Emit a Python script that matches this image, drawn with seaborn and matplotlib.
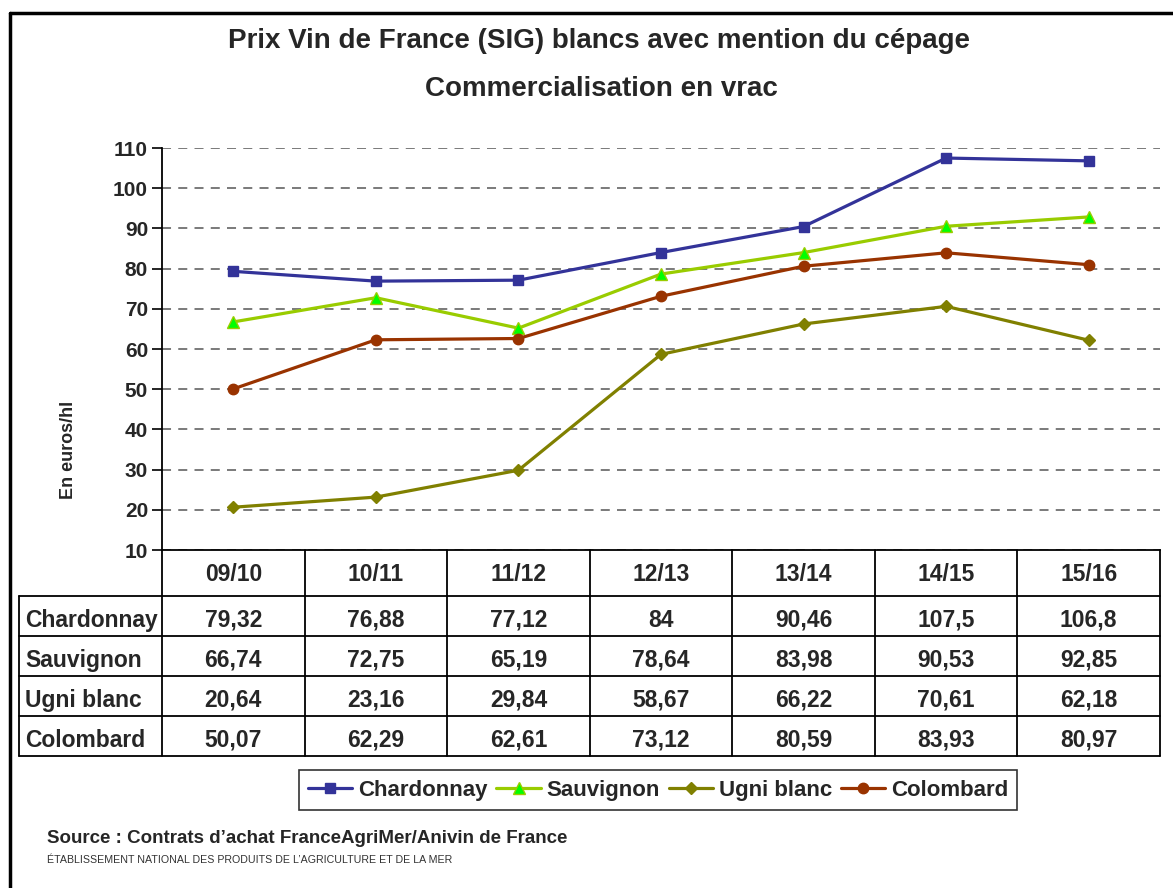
import numpy as np
import pandas as pd
import matplotlib
matplotlib.use("Agg")
import matplotlib.pyplot as plt
import matplotlib.transforms as mtransforms
from matplotlib.lines import Line2D
import seaborn as sns

# Data (euros/hl)
seasons = ["09/10", "10/11", "11/12", "12/13", "13/14", "14/15", "15/16"]
cepages = ["Chardonnay", "Sauvignon", "Ugni blanc", "Colombard"]
chardonnay = [79.32, 76.88, 77.12, 84, 90.46, 107.5, 106.8]
sauvignon = [66.74, 72.75, 65.19, 78.64, 83.98, 90.53, 92.85]
ugni_blanc = [20.64, 23.16, 29.84, 58.67, 66.22, 70.61, 62.18]
colombard = [50.07, 62.29, 62.61, 73.12, 80.59, 83.93, 80.97]
yticks = list(range(10, 111, 10))

series = [chardonnay, sauvignon, ugni_blanc, colombard]
colors = ["#333399", "#99CC00", "#808000", "#993300"]
face_colors = ["#333399", "#00FF00", "#808000", "#993300"]
markers = ["s", "^", "D", "o"]
msizes = [7.5, 8, 6.5, 7.5]

df = pd.DataFrame({
    "Saison": seasons * len(cepages),
    "Cepage": [c for c in cepages for _ in seasons],
    "Prix": [v for s in series for v in s],
})

sns.set_style("white")
plt.rcParams["font.family"] = ["Liberation Sans", "DejaVu Sans"]

W, H = 1173, 888
fig = plt.figure(figsize=(W / 100, H / 100), dpi=100)
ax = fig.add_axes([162 / W, 1 - 550 / H, 998 / W, 402 / H])

sns.lineplot(data=df, x="Saison", y="Prix", hue="Cepage", style="Cepage",
             hue_order=cepages, style_order=cepages,
             palette=dict(zip(cepages, colors)),
             markers=dict(zip(cepages, markers)), dashes=False,
             linewidth=2.3, sort=False, legend=False, ax=ax)

handles = []
for line, fc, ec, ms, name in zip(ax.lines, face_colors, colors, msizes, cepages):
    line.set_markerfacecolor(fc)
    line.set_markeredgecolor(ec)
    line.set_markersize(ms)
    line.set_markeredgewidth(1)
    line.set_label(name)
    line.set_zorder(3)
    handles.append(line)

ax.set_xlim(-0.5, len(seasons) - 0.5)
ax.set_ylim(10, 110)
ax.set_yticks(yticks)
ax.set_yticklabels([str(t) for t in yticks], fontsize=15, fontweight="bold")
ax.tick_params(axis="y", direction="out", length=7, width=1.2, color="black",
               left=True, pad=3)
ax.tick_params(axis="x", length=0, labelbottom=False)
ax.set_xlabel("")
ax.set_ylabel("En euros/hl", fontsize=13, fontweight="bold")
ax.yaxis.set_label_coords(-0.085, 0.25)
ax.grid(axis="y", color="#707070", linestyle=(0, (5, 4)), linewidth=1.3)
ax.grid(axis="x", visible=False)
sns.despine(ax=ax, top=True, right=True)
for sp in ["left", "bottom"]:
    ax.spines[sp].set_color("black")
    ax.spines[sp].set_linewidth(1.3)

# Data table under the axis, columns aligned on the categories
trans = mtransforms.blended_transform_factory(ax.transData, ax.transAxes)
header_h = 46 / 402
row_h = 40 / 402
n = len(seasons)
bottom = -(header_h + len(cepages) * row_h)
lkw = dict(transform=trans, clip_on=False, color="black", linewidth=1.3)
for i in range(n + 1):
    ax.plot([i - 0.5, i - 0.5], [0, bottom], **lkw)
ax.plot([-1.5, -1.5], [-header_h, bottom], **lkw)
for k in range(len(cepages) + 1):
    yy = -header_h - k * row_h
    ax.plot([-1.5, n - 0.5], [yy, yy], **lkw)

tkw = dict(transform=trans, va="baseline", fontsize=16.5, fontweight="bold")
for i, s in enumerate(seasons):
    ax.text(i, -header_h / 2 - 8 / 402, s, ha="center", **tkw)
for r, (name, vals) in enumerate(zip(cepages, series)):
    yb = -header_h - (r + 0.5) * row_h - 11 / 402
    ax.text(-1.46, yb, name, ha="left", **tkw)
    for i, v in enumerate(vals):
        ax.text(i, yb, f"{v:g}".replace(".", ","), ha="center", **tkw)

# Titles
fig.text(599 / W, 1 - 41 / H, "Prix Vin de France (SIG) blancs avec mention du cépage",
         ha="center", va="center", fontsize=20, fontweight="bold")
fig.text(601 / W, 1 - 89 / H, "Commercialisation en vrac",
         ha="center", va="center", fontsize=20, fontweight="bold")

# Legend
leg = fig.legend(handles, cepages, loc="center", ncol=4,
                 bbox_to_anchor=(658 / W, 1 - 790 / H),
                 prop={"size": 16, "weight": "bold"}, frameon=True,
                 fancybox=False, edgecolor="black", handlelength=2.0,
                 handletextpad=0.25, columnspacing=0.4, borderpad=0.42)
leg.get_frame().set_linewidth(1.2)

# Source
fig.text(47 / W, 1 - 838 / H, "Source : Contrats d’achat FranceAgriMer/Anivin de France",
         ha="left", va="center", fontsize=13.5, fontweight="bold")
fig.text(47 / W, 1 - 860 / H,
         "ÉTABLISSEMENT NATIONAL DES PRODUITS DE L’AGRICULTURE ET DE LA MER",
         ha="left", va="center", fontsize=7.7, color="#333333")

# Outer frame (left and top)
fig.add_artist(Line2D([10 / W, 10 / W], [0, 1 - 13 / H], transform=fig.transFigure,
                      color="black", linewidth=2.5))
fig.add_artist(Line2D([10 / W, 1], [1 - 13 / H, 1 - 13 / H], transform=fig.transFigure,
                      color="black", linewidth=2.5))

fig.savefig("out.png", dpi=100)
